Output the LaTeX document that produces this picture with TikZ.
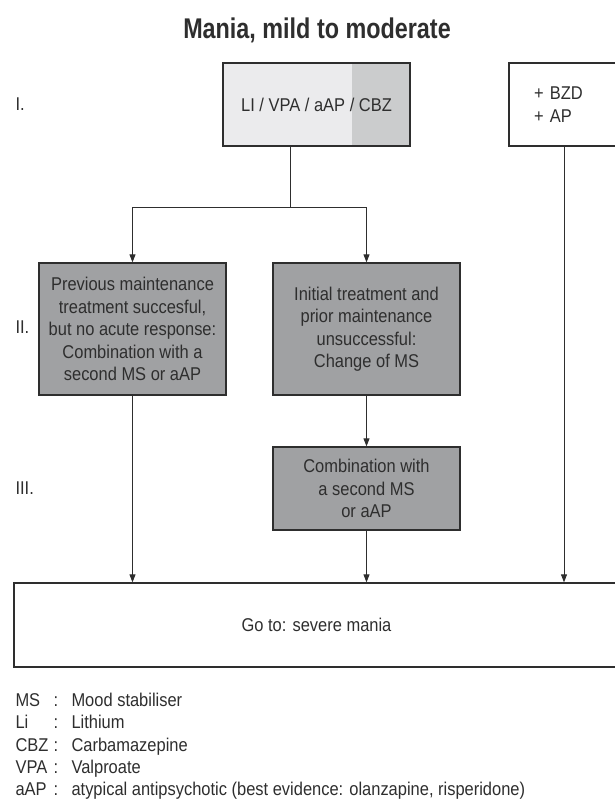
\documentclass[tikz,border=0pt]{standalone}
\usepackage{fontspec}
\setmainfont{Liberation Sans}[FakeStretch=0.89]
\newfontfamily\titlefont{Liberation Sans}[FakeStretch=0.82]
\usetikzlibrary{arrows.meta}
\definecolor{lightbox}{HTML}{EBEBED}
\definecolor{cbzbox}{HTML}{CBCCCD}
\definecolor{stepgray}{HTML}{A0A1A3}
\definecolor{ink}{HTML}{2E2E2E}
\begin{document}
\begin{tikzpicture}[x=1pt, y=-1pt,
  every node/.style={font=\fontsize{18.5}{22.5}\selectfont, text=ink},
  box/.style={draw=ink, line width=1.3pt, align=center, inner sep=0pt},
  graybox/.style={box, fill=stepgray, minimum width=187pt},
  arr/.style={draw=ink, line width=0.9pt, -{Triangle[length=8pt,width=6pt]}},
  level/.style={anchor=west}]
  \useasboundingbox (0,0) rectangle (614,803);
  \node[anchor=base, font=\titlefont\fontsize{28.5}{30}\selectfont\bfseries] (title) at (317,38) {Mania, mild to moderate};
  % step I
  \node[box, fill=lightbox, minimum width=187pt, minimum height=83pt,
    path picture={\fill[cbzbox] ([xshift=-58pt]path picture bounding box.north east) rectangle (path picture bounding box.south east);}]
    (boxI) at (316.5,104.5) {LI / VPA / aAP / CBZ};
  \node[box, minimum width=110pt, minimum height=83pt, text width=60pt, align=left] (boxR) at (564,104.5) {+ BZD\\+ AP};
  % step II
  \node[graybox, minimum height=132pt] (boxIIa) at (132.5,329) {Previous maintenance\\treatment succesful,\\but no acute response:\\Combination with a\\second MS or aAP};
  \node[graybox, minimum height=132pt] (boxIIb) at (366.5,329) {Initial treatment and\\prior maintenance\\unsuccessful:\\Change of MS};
  % step III
  \node[graybox, minimum height=83pt] (boxIII) at (366.5,488.5) {Combination with\\a second MS\\or aAP};
  \node[box, minimum width=605pt, minimum height=84pt] (bottom) at (316.5,625) {Go to: severe mania};
  \node[level] (lvlI) at (12,104) {I.};
  \node[level] (lvlII) at (12,327) {II.};
  \node[level] (lvlIII) at (12,488) {III.};
  % connectors
  \coordinate (fork) at (290,207);
  \draw[ink, line width=0.9pt] (boxI.south -| fork) -- (fork);
  \draw[arr] (fork) -| (boxIIa);
  \draw[arr] (fork) -| (boxIIb);
  \draw[arr] (boxIIb) -- (boxIII);
  \draw[arr] (boxIIa) -- (boxIIa |- bottom.north);
  \draw[arr] (boxIII) -- (boxIII |- bottom.north);
  \draw[arr] (boxR) -- (boxR |- bottom.north);
  % legend
  \foreach \abbr/\full [count=\i from 0] in {MS/Mood stabiliser, Li/Lithium, CBZ/Carbamazepine, VPA/Valproate,
      {aAP/atypical antipsychotic (best evidence: olanzapine, risperidone)}} {
    \node[anchor=base west] (abbr-\i) at (12,706.5+22.25*\i) {\abbr};
    \node[anchor=base] (colon-\i) at (56,706.5+22.25*\i) {:};
    \node[anchor=base west] (full-\i) at (68,706.5+22.25*\i) {\full};
  }
\end{tikzpicture}
\end{document}
